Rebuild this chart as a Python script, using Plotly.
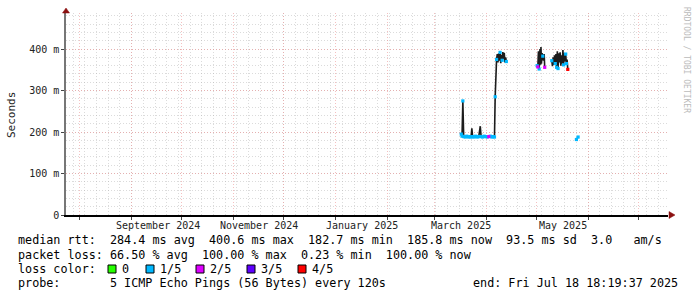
import plotly.graph_objects as go
import pandas as pd

# ---------------- data ----------------
times = [
    "2025-03-17 03:00", "2025-03-17 14:00", "2025-03-18 02:00", "2025-03-18 14:00",
    "2025-03-19 12:00", "2025-03-20 10:00", "2025-03-21 08:00", "2025-03-22 06:00",
    "2025-03-23 00:00", "2025-03-23 11:00", "2025-03-23 22:00", "2025-03-24 20:00",
    "2025-03-25 18:00", "2025-03-26 16:00", "2025-03-27 14:00", "2025-03-28 12:00",
    "2025-03-29 00:00", "2025-03-29 22:00", "2025-03-30 20:00", "2025-03-31 18:00",
    "2025-04-01 16:00", "2025-04-02 14:00", "2025-04-03 12:00", "2025-04-04 10:00",
    "2025-04-05 08:00", "2025-04-06 00:00", "2025-04-06 10:00", "2025-04-06 20:00",
    "2025-04-07 06:00", "2025-04-07 16:00", "2025-04-08 02:00", "2025-04-08 12:00",
    "2025-04-08 22:00", "2025-04-09 08:00", "2025-04-09 18:00", "2025-04-10 04:00",
    "2025-04-10 14:00", "2025-04-11 00:00", "2025-04-11 10:00", "2025-04-11 20:00",
    "2025-04-12 06:00", "2025-04-12 16:00", "2025-04-13 02:00",
    "2025-04-20 00:00",
    "2025-05-01 12:00", "2025-05-01 22:00", "2025-05-02 07:00", "2025-05-02 17:00",
    "2025-05-03 05:00", "2025-05-03 12:00", "2025-05-03 19:00", "2025-05-04 02:00",
    "2025-05-04 12:00", "2025-05-04 21:00", "2025-05-05 07:00", "2025-05-05 17:00",
    "2025-05-06 01:00",
    "2025-05-08 00:00",
    "2025-05-10 06:00", "2025-05-10 16:00", "2025-05-11 02:00", "2025-05-11 12:00",
    "2025-05-11 22:00", "2025-05-12 08:00", "2025-05-12 18:00", "2025-05-13 04:00",
    "2025-05-13 14:00", "2025-05-14 00:00", "2025-05-14 10:00", "2025-05-14 20:00",
    "2025-05-15 06:00", "2025-05-15 16:00", "2025-05-16 02:00", "2025-05-16 12:00",
    "2025-05-16 22:00", "2025-05-17 08:00", "2025-05-17 18:00", "2025-05-18 04:00",
    "2025-05-18 14:00", "2025-05-19 00:00", "2025-05-19 10:00", "2025-05-19 20:00",
    "2025-05-22 00:00",
    "2025-05-25 00:00", "2025-05-26 00:00",
]
median_ms = [
    195, 190, 275, 189,
    188, 190, 188, 189,
    188, 209, 189, 188,
    190, 188, 189, 214,
    189, 188, 190, 189,
    188, 189, 190, 188,
    189, 188, 285, 365,
    375, 388, 368, 390,
    372, 392, 366, 386,
    373, 393, 376, 391,
    368, 380, 370,
    None,
    360, 357, 395, 352,
    400, 362, 405, 365,
    390, 383, 372, 388,
    356,
    None,
    372, 359, 380, 362,
    385, 365, 388, 356,
    395, 353, 390, 368,
    392, 360, 385, 365,
    398, 362, 390, 370,
    388, 365, 375, 351,
    None,
    182, 188,
]
# loss level: 0 -> 0, 1 -> 1/5, 2 -> 2/5, 3 -> 3/5, 4 -> 4/5, None -> no coloured median
loss = [
    1, 1, 1, 1,
    1, 1, 1, 1,
    1, None, 1, 1,
    1, 1, 1, None,
    1, 1, 1, 1,
    1, 2, 1, 1,
    1, 1, 1, None,
    1, None, None, None,
    None, 1, None, None,
    1, None, None, None,
    None, None, 1,
    None,
    1, 2, None, 1,
    None, None, None, None,
    None, 1, None, None,
    2,
    None,
    1, None, None, None,
    None, 1, None, 1,
    None, 1, None, None,
    None, None, None, None,
    None, 1, None, None,
    1, 1, None, 4,
    None,
    1, 1,
]

loss_labels = ["0", "1/5", "2/5", "3/5", "4/5"]
loss_colors = ["#26ff00", "#00b8ff", "#dd00ff", "#5e00ff", "#ff0000"]

y_tick_vals = [0, 100, 200, 300, 400]
y_tick_text = ["0", "100 m", "200 m", "300 m", "400 m"]

month_labels = ["September 2024", "November 2024", "January 2025", "March 2025", "May 2025"]
month_label_pos = ["2024-09-16 12:00", "2024-11-16 00:00", "2025-01-16 12:00",
                   "2025-03-17 00:00", "2025-05-17 00:00"]

legend_lines = [
    "median rtt:  284.4 ms avg  400.6 ms max  182.7 ms min  185.8 ms now  93.5 ms sd  3.0   am/s",
    "packet loss: 66.50 % avg  100.00 % max  0.23 % min  100.00 % now",
    "loss color:",
    "probe:       5 ICMP Echo Pings (56 Bytes) every 120s",
]
end_text = "end: Fri Jul 18 18:19:37 2025"

x_start = "2024-07-23 18:19:37"
x_end = "2025-07-18 18:19:37"
y_max = 487

# ---------------- layout helpers ----------------
W, H = 697, 297
L, R, T, B = 66, 29, 13, 82
PW, PH = W - L - R, H - T - B


def px(x):
    return (x - L) / PW


def py(y):
    return (H - B - y) / PH


MONO = "DejaVu Sans Mono"

fig = go.Figure()

# smoke / median path
fig.add_trace(go.Scatter(
    x=times, y=median_ms, mode="lines",
    line=dict(color="#1c1c1c", width=1.6),
    connectgaps=False, hoverinfo="skip", showlegend=False,
))
# loss-coloured median marks
for lvl, col in enumerate(loss_colors):
    ys = [v if l == lvl else None for v, l in zip(median_ms, loss)]
    fig.add_trace(go.Scatter(
        x=times, y=ys, mode="markers",
        marker=dict(symbol="square", size=3.2, color=col, line_width=0),
        hoverinfo="skip", showlegend=False,
    ))

month_starts = pd.date_range("2024-08-01", "2025-07-01", freq="MS")
weeks = pd.date_range("2024-07-28", "2025-07-18", freq="W-SUN")

major_grid = "rgba(235,140,140,0.55)"
minor_grid = "rgba(175,175,175,0.45)"
DOTS = "1px,2px"

fig.update_xaxes(
    type="date", range=[x_start, x_end],
    tickmode="array", tickvals=list(month_starts), showticklabels=False,
    showgrid=True, gridcolor=major_grid, griddash=DOTS, gridwidth=1,
    ticks="outside", ticklen=3, tickcolor="#444",
    showline=True, linecolor="#000", linewidth=1.5,
    zeroline=False,
    minor=dict(tickmode="array", tickvals=list(weeks), showgrid=True,
               gridcolor=minor_grid, griddash=DOTS, gridwidth=1, ticks=""),
)
fig.update_yaxes(
    range=[0, y_max],
    tickmode="array", tickvals=y_tick_vals, ticktext=y_tick_text,
    tickfont=dict(family=MONO, size=10, color="#222"),
    showgrid=True, gridcolor=major_grid, griddash=DOTS, gridwidth=1,
    ticks="outside", ticklen=3, tickcolor="#444",
    showline=True, linecolor="#777", linewidth=1.5,
    zeroline=False,
    minor=dict(dtick=20, showgrid=True, gridcolor=minor_grid, griddash=DOTS,
               gridwidth=1, ticks=""),
)

annotations = []
# month labels
for lab, pos in zip(month_labels, month_label_pos):
    annotations.append(dict(x=pos, xref="x", y=py(225), yref="paper", text=lab,
                            showarrow=False, xanchor="center", yanchor="middle",
                            font=dict(family=MONO, size=10, color="#222")))
# y title
annotations.append(dict(x=px(11), y=py(115), xref="paper", yref="paper", text="Seconds",
                        textangle=-90, showarrow=False, xanchor="center", yanchor="middle",
                        font=dict(family=MONO, size=11, color="#222")))
# watermark
annotations.append(dict(x=px(687), y=py(60), xref="paper", yref="paper",
                        text="RRDTOOL / TOBI OETIKER", textangle=90, showarrow=False,
                        xanchor="center", yanchor="middle",
                        font=dict(family=MONO, size=8, color="#bbbbbb")))
# legend lines
line_y = [240.5, 254.5, 268.5, 283]
for txt, yy in zip(legend_lines, line_y):
    annotations.append(dict(x=px(16), y=py(yy), xref="paper", yref="paper", text=txt.replace(" ", "&nbsp;"),
                            showarrow=False, xanchor="left", yanchor="middle",
                            font=dict(family=MONO, size=11.75, color="#000")))
annotations.append(dict(x=px(680), y=py(line_y[3]), xref="paper", yref="paper",
                        text=end_text.replace(" ", "&nbsp;"), showarrow=False,
                        xanchor="right", yanchor="middle",
                        font=dict(family=MONO, size=11.75, color="#000")))

shapes = []
box_x = [108, 146, 196, 247, 298]
for bx, col, lab in zip(box_x, loss_colors, loss_labels):
    shapes.append(dict(type="rect", xref="paper", yref="paper",
                       x0=px(bx), x1=px(bx + 8), y0=py(273), y1=py(265),
                       fillcolor=col, line=dict(color="#000", width=1)))
    annotations.append(dict(x=px(bx + 12), y=py(line_y[2]), xref="paper", yref="paper",
                            text=lab, showarrow=False, xanchor="left", yanchor="middle",
                            font=dict(family=MONO, size=11.75, color="#000")))

# axis arrows
shapes.append(dict(type="path", xref="paper", yref="paper", xsizemode="pixel", ysizemode="pixel",
                   xanchor=0, yanchor=1, path="M -3.5,0 L 3.5,0 L 0,5 Z",
                   fillcolor="#8b1010", line=dict(color="#8b1010", width=0.5)))
shapes.append(dict(type="path", xref="paper", yref="paper", xsizemode="pixel", ysizemode="pixel",
                   xanchor=1, yanchor=0, path="M 1,-3.5 L 1,3.5 L 7,0 Z",
                   fillcolor="#8b1010", line=dict(color="#8b1010", width=0.5)))

fig.update_layout(
    width=W, height=H,
    margin=dict(l=L, r=R, t=T, b=B, pad=0),
    paper_bgcolor="#ffffff", plot_bgcolor="#ffffff",
    showlegend=False,
    annotations=annotations, shapes=shapes,
)

fig.write_html("out.html")
